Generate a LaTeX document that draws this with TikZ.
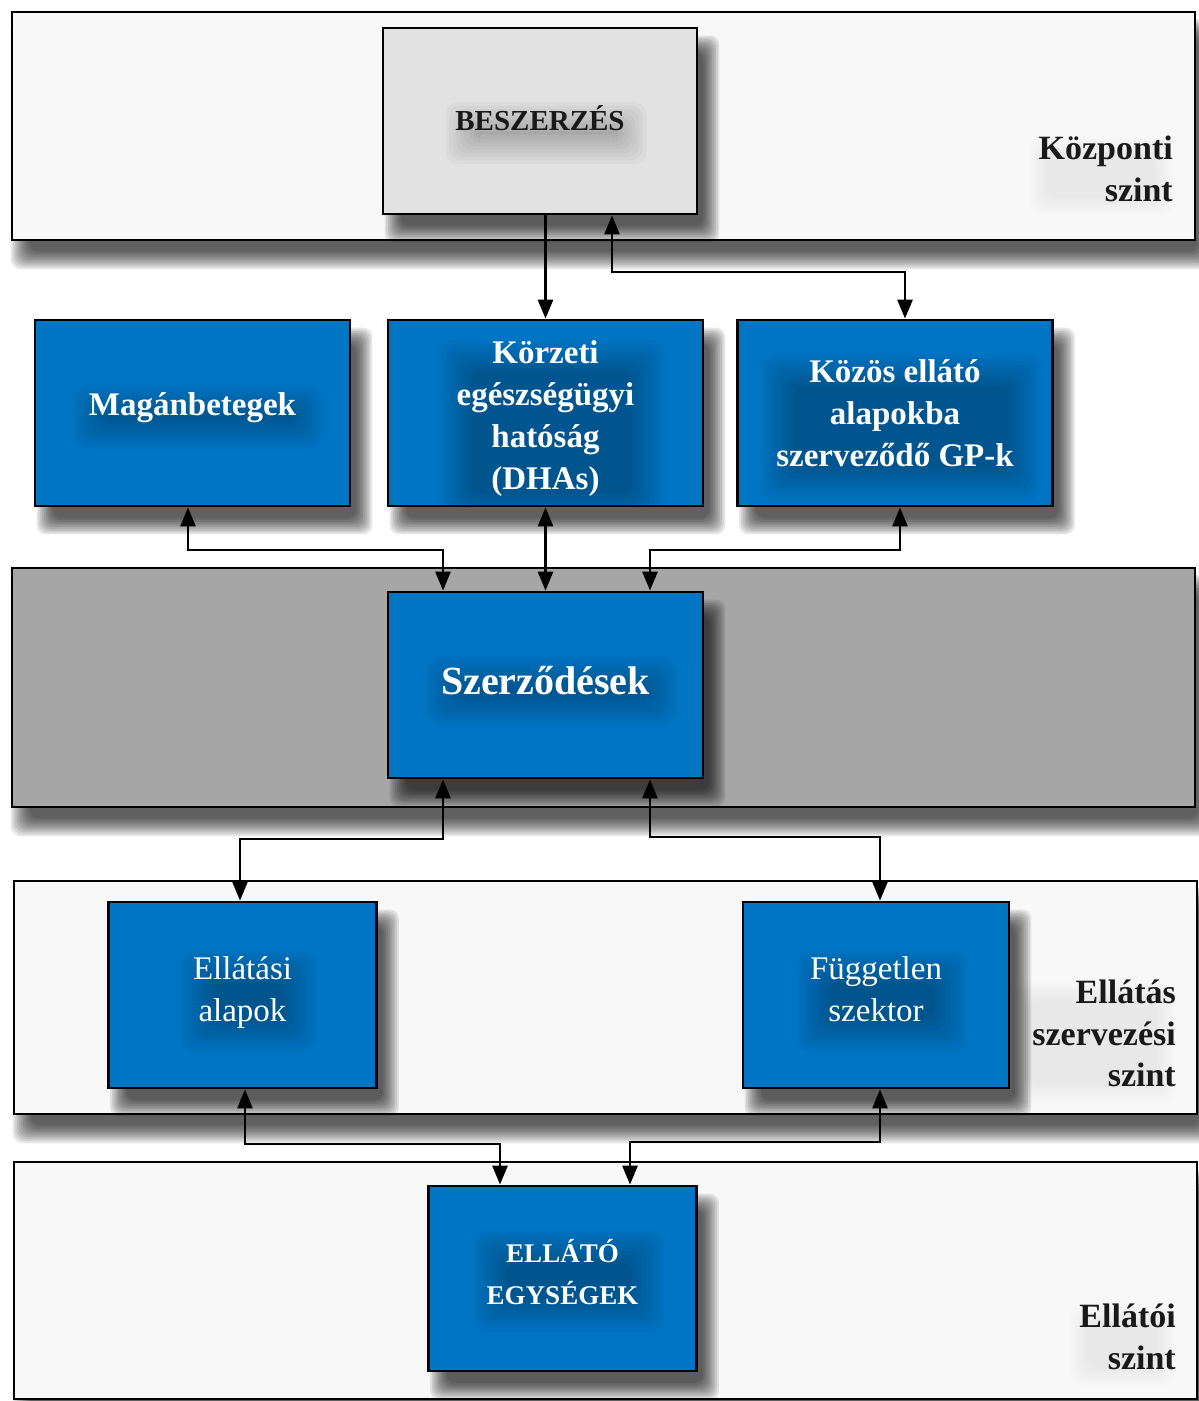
\documentclass[tikz,border=0pt]{standalone}
\usepackage{fontspec}
\setmainfont{Liberation Serif}
\usetikzlibrary{arrows.meta,calc}

\definecolor{boxblue}{RGB}{0,117,196}
\definecolor{bandlight}{RGB}{248,248,248}
\definecolor{banddark}{RGB}{166,166,166}
\definecolor{topgray}{RGB}{226,226,226}
\definecolor{labeltext}{RGB}{25,25,25}

\pgfdeclarelayer{paper}
\pgfdeclarelayer{bandshadow}
\pgfdeclarelayer{bandfill}
\pgfdeclarelayer{boxshadow}
\pgfsetlayers{paper,bandshadow,bandfill,boxshadow,main}

% soft drop shadow built from stacked translucent rectangles
% #1 layer, #2 node, #3 right offset, #4 downward offset, #5 spread
\newcommand\castshadow[5]{%
  \begin{pgfonlayer}{#1}
    \foreach \k in {0,...,9}{
      \fill[black, opacity=0.09, rounded corners=#5pt]
        ($(#2.south west)+({#3-#5+\k*#5/5},{#4+#5-\k*#5/5})$) rectangle
        ($(#2.north east)+({#3+#5-\k*#5/5},{#4-#5+\k*#5/5})$);
    }
  \end{pgfonlayer}}

\tikzset{
  bandbox/.style={draw=black, line width=2.6pt, fill=bandlight, inner sep=0pt},
  darkbandbox/.style={bandbox, fill=banddark},
  % soft glow under a text block: width, height, downward offset from the centre
  haze/.style n args={3}{path picture={
    \foreach \k in {0,...,9}{
      \fill[black, opacity=0.026, rounded corners=12pt]
        ($(path picture bounding box.center)+({-#1/2-18+\k*3.6+6},{#3-#2/2-18+\k*3.6})$) rectangle
        ($(path picture bounding box.center)+({#1/2+18-\k*3.6+6},{#3+#2/2+18-\k*3.6})$);
    }}},
  unit/.style={draw=black, line width=2.8pt, fill=boxblue, text=white,
    minimum width=315pt, minimum height=186pt, align=center, inner sep=0pt,
    font=\fontsize{33}{42}\selectfont\bfseries},
  narrowunit/.style={unit, minimum width=268pt},
  topunit/.style={unit, fill=topgray, text=labeltext},
  % extra depth below the last line of a text block
  bottomrule/.style={execute at end node={\rule[-#1]{0pt}{#1}}},
  levellabel/.style={align=right, anchor=north east, text=labeltext, inner sep=0pt,
    font=\fontsize{34}{41.5}\selectfont\bfseries},
  labelhaze/.style={black, opacity=0.007, rounded corners=10pt},
  link/.style={draw=black, line width=2.8pt, {Triangle[length=19pt,width=15pt]}-{Triangle[length=19pt,width=15pt]}},
  onelink/.style={draw=black, line width=2.8pt, -{Triangle[length=19pt,width=15pt]}}
}

\begin{document}
\begin{tikzpicture}[x=1pt,y=-1pt]
  \useasboundingbox (0,0) rectangle (1199,1401);
  \begin{pgfonlayer}{paper}
    \fill[white] (0,0) rectangle (1199,1401);
  \end{pgfonlayer}

  % horizontal level bands
  \begin{pgfonlayer}{bandfill}
    \node[bandbox,     minimum width=1183pt, minimum height=228pt] (band1) at (603.5,126)    {};
    \node[darkbandbox, minimum width=1183pt, minimum height=239pt] (band2) at (603.5,687.5)  {};
    \node[bandbox,     minimum width=1183pt, minimum height=233pt] (band3) at (605.5,997.5)  {};
    \node[bandbox,     minimum width=1183pt, minimum height=237pt] (band4) at (605.5,1280.5) {};
  \end{pgfonlayer}
  \castshadow{bandshadow}{band1}{10}{18}{10}
  \castshadow{bandshadow}{band2}{10}{18}{10}
  \castshadow{bandshadow}{band3}{10}{18}{10}
  \castshadow{bandshadow}{band4}{10}{18}{10}

  % faint glow behind the level captions
  \foreach \k in {0,...,7}{
    \fill[labelhaze] ({1030+\k*2.5},{138+\k*2.5}) rectangle ({1172-\k*2.5},{215-\k*2.5});
    \fill[labelhaze] ({1012+\k*2.5},{983+\k*2.5}) rectangle ({1175-\k*2.5},{1102-\k*2.5});
    \fill[labelhaze] ({1070+\k*2.5},{1307+\k*2.5}) rectangle ({1175-\k*2.5},{1385-\k*2.5});
  }

  % level captions
  \node[levellabel] (lvl1) at (1173,136)  {Központi\\szint};
  \node[levellabel] (lvl3) at (1176,980)  {Ellátás\\szervezési\\szint};
  \node[levellabel] (lvl4) at (1176,1304) {Ellátói\\szint};

  % units
  \node[topunit, minimum width=314pt, font=\fontsize{29}{36}\selectfont\bfseries,
        bottomrule=6pt, haze={165}{26}{12}]
        (beszerzes) at (540,121) {BESZERZÉS};
  \node[unit, bottomrule=17pt, haze={215}{28}{4}] (magan) at (192.5,413) {Magánbetegek};
  \node[unit, haze={190}{150}{20}] (korzeti) at (545.5,413)
        {\rule{0pt}{35pt}Körzeti\\egészségügyi\\hatóság\\(DHAs)};
  \node[unit, haze={245}{110}{14}] (kozos) at (895,413)
        {Közös ellátó\\alapokba\\szerveződő GP-k};
  \node[unit, font=\fontsize{40}{46}\selectfont\bfseries, bottomrule=10pt, haze={215}{34}{6}]
        (szerz) at (545.5,685) {Szerződések};
  \node[narrowunit, font=\fontsize{33}{42}\selectfont, bottomrule=11pt, haze={100}{66}{6}]
        (ellatasi) at (242.5,995) {Ellátási\\alapok};
  \node[narrowunit, minimum width=266pt, font=\fontsize{33}{42}\selectfont, bottomrule=12pt, haze={135}{66}{6}]
        (fuggetlen) at (876,995) {Független\\szektor};
  \node[narrowunit, minimum height=185pt, font=\fontsize{27}{42}\selectfont\bfseries, bottomrule=14pt, haze={155}{66}{2}]
        (ellato) at (562.5,1278.5) {ELLÁTÓ\\EGYSÉGEK};

  \foreach \u in {beszerzes,magan,korzeti,kozos,szerz,ellatasi,fuggetlen,ellato}
    \castshadow{boxshadow}{\u}{12}{18}{9};

  % bend points of the connectors
  \coordinate (b2a) at (612,272);  \coordinate (b2b) at (905,272);
  \coordinate (b3a) at (188,550);  \coordinate (b3b) at (443,550);
  \coordinate (b5a) at (900,550);  \coordinate (b5b) at (650,550);
  \coordinate (b6a) at (443,839);  \coordinate (b6b) at (240,839);
  \coordinate (b7a) at (650,837);  \coordinate (b7b) at (880,837);
  \coordinate (b8a) at (245,1144); \coordinate (b8b) at (500,1144);
  \coordinate (b9a) at (880,1142); \coordinate (b9b) at (630,1142);

  % connectors
  \draw[onelink] (beszerzes.south -| korzeti.north) -- (korzeti.north);
  \draw[link] (beszerzes.south -| b2a) -- (b2a) -- (b2b) -- (kozos.north -| b2b);
  \draw[link] (magan.south -| b3a) -- (b3a) -- (b3b) -- (szerz.north -| b3b);
  \draw[link] (korzeti.south) -- (szerz.north);
  \draw[link] (kozos.south -| b5a) -- (b5a) -- (b5b) -- (szerz.north -| b5b);
  \draw[link] (szerz.south -| b6a) -- (b6a) -- (b6b) -- (ellatasi.north -| b6b);
  \draw[link] (szerz.south -| b7a) -- (b7a) -- (b7b) -- (fuggetlen.north -| b7b);
  \draw[link] (ellatasi.south -| b8a) -- (b8a) -- (b8b) -- (ellato.north -| b8b);
  \draw[link] (fuggetlen.south -| b9a) -- (b9a) -- (b9b) -- (ellato.north -| b9b);
\end{tikzpicture}
\end{document}
